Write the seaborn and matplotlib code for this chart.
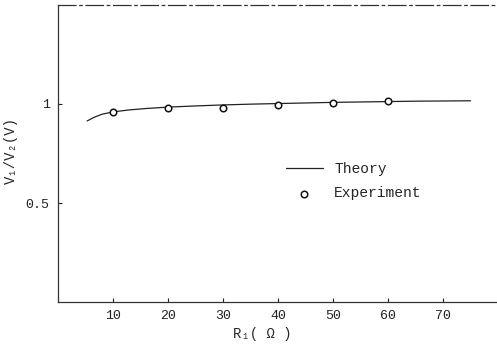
import matplotlib
matplotlib.use("Agg")
import matplotlib.pyplot as plt
import seaborn as sns
import pandas as pd

# theory curve
theory_r1 = [5.3, 6.5, 8, 10, 13, 16, 20, 25, 30, 35, 40, 45, 50, 55, 60, 65, 70, 75]
theory_ratio = [0.914, 0.932, 0.948, 0.960, 0.970, 0.977, 0.984, 0.990, 0.995, 0.999,
                1.002, 1.005, 1.008, 1.010, 1.012, 1.014, 1.015, 1.016]

# measured points
exp_r1 = [10, 20, 30, 40, 50, 60]
exp_ratio = [0.960, 0.980, 0.982, 0.997, 1.005, 1.015]

x_ticks = [10, 20, 30, 40, 50, 60, 70]
y_ticks = [0.5, 1]
y_tick_labels = ["0.5", "1"]

theory = pd.DataFrame({"R1": theory_r1, "ratio": theory_ratio})
experiment = pd.DataFrame({"R1": exp_r1, "ratio": exp_ratio})

sns.set_style("ticks")
plt.rcParams["font.family"] = ["Liberation Mono", "DejaVu Sans Mono"]

fig = plt.figure(figsize=(4.97, 3.5), dpi=100)
ax = fig.add_axes([0.1167, 0.137, 0.8833, 0.849])

sns.lineplot(data=theory, x="R1", y="ratio", ax=ax, color="#222222",
             linewidth=0.9, label="Theory")
sns.scatterplot(data=experiment, x="R1", y="ratio", ax=ax, marker="o", s=22,
                facecolor="white", edgecolor="#111111", linewidth=1.1,
                label="Experiment", zorder=3)

ax.set_xlim(0, 79.8)
ax.set_ylim(0, 1.5)
ax.set_xticks(x_ticks)
ax.set_xticklabels([str(t) for t in x_ticks])
ax.set_yticks(y_ticks)
ax.set_yticklabels(y_tick_labels)
ax.tick_params(direction="in", length=3, width=0.8, labelsize=9.5, colors="#222222", pad=6)

for side in ["left", "bottom", "top"]:
    ax.spines[side].set_color("#333333")
    ax.spines[side].set_linewidth(0.9)
ax.spines["right"].set_visible(False)
ax.spines["top"].set_visible(True)
ax.spines["top"].set_linestyle((0, (14, 3, 2, 3)))

ax.set_xlabel("R₁( Ω )", fontsize=10)
ax.set_ylabel("V₁/V₂(V)", fontsize=10)
ax.xaxis.set_label_coords(0.465, -0.084)
ax.yaxis.set_label_coords(-0.091, 0.51)

ax.legend(loc="upper left", bbox_to_anchor=(0.49, 0.515), frameon=False,
          fontsize=10.5, handlelength=2.5, handletextpad=0.8, labelspacing=0.7)

fig.savefig("out.png", dpi=100)
